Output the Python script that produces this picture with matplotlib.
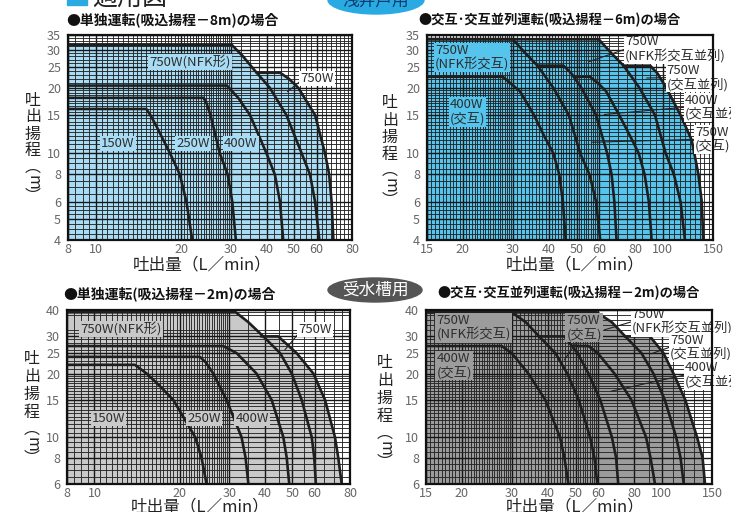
import numpy as np
import matplotlib
matplotlib.use('Agg')
import matplotlib.pyplot as plt
from matplotlib.patches import Ellipse, Rectangle
from matplotlib.ticker import FixedLocator, FixedFormatter, NullFormatter

plt.rcParams['font.family'] = ['Noto Sans CJK JP', 'DejaVu Sans']

# ---------------- data ----------------
# Panel 1: 単独運転 (吸込揚程 -8m)
p1_150w_q = [8, 15.1, 15.6, 16.4, 18.3, 19.8, 20.9, 21.9]
p1_150w_h = [16, 16, 15, 13.3, 10, 8, 6, 4]
p1_250w_q = [8, 24.0, 24.6, 25.4, 27.4, 29.2, 30.3, 31.2]
p1_250w_h = [18, 18, 17, 15, 10, 8, 6, 4]
p1_400w_q = [8, 29.0, 31.8, 35.0, 40.0, 42.8, 44.6, 45.8]
p1_400w_h = [20.5, 20.5, 18, 15, 10, 8, 6, 4]
p1_nfk_q = [8, 30.2, 33.0, 36.4, 41.1, 47.0, 53.2, 56.9, 59.3, 61.4]
p1_nfk_h = [31.5, 31.5, 28, 24, 20, 15, 10, 8, 6, 4]
p1_750w_q = [37.0, 44.6, 48.0, 51.8, 59.3, 64.3, 66.5, 67.8, 68.8]
p1_750w_h = [23.5, 23.5, 22, 20, 15, 10, 8, 6, 4]

# Panel 2: 交互・交互並列運転 (吸込揚程 -6m)
p2_400a_q = [15, 27.6, 31.7, 35.5, 38.8, 41.5, 43.5, 44.8, 45.8]
p2_400a_h = [22.5, 22.5, 19.3, 15, 11.8, 10, 8, 6, 4]
p2_nfka_q = [15, 29.9, 33.0, 36.5, 41.5, 47.0, 51.5, 55.5, 58.5, 60.5]
p2_nfka_h = [33.5, 33.5, 29, 25.3, 20, 15, 10, 8, 6, 4]
p2_750a_q = [36.5, 45.0, 48.0, 52.0, 58.5, 64.0, 66.3, 67.8, 69.0]
p2_750a_h = [25.3, 25.3, 23.3, 20, 15, 10, 8, 6, 4]
p2_400p_q = [49, 55.7, 59.5, 63.4, 70.5, 77.5, 82.5, 86.5, 89.5, 91.5]
p2_400p_h = [22.5, 22.5, 21, 19.3, 15, 11.8, 10, 8, 6, 4]
p2_nfkp_q = [15, 59.7, 66.0, 73.0, 83.0, 94.0, 102.5, 109.5, 115.5, 119.7]
p2_nfkp_h = [33.5, 33.5, 29, 25.3, 20, 15, 10, 8, 6, 4]
p2_750p_q = [73, 90.5, 96, 103, 115.5, 126.4, 133.4, 137, 138.8]
p2_750p_h = [25.3, 25.3, 23.3, 20, 15, 11.5, 8, 6, 4]

# Panel 3: 単独運転 (吸込揚程 -2m)
p3_150w_q = [8, 13.9, 15.3, 17.0, 19.0, 22.7, 23.9, 24.9]
p3_150w_h = [22, 22, 20, 17.5, 15, 10, 8, 6]
p3_250w_q = [8, 23.6, 24.8, 26.3, 29.3, 33.1, 34.2, 35.0]
p3_250w_h = [24, 24, 22.5, 20, 15, 10, 8, 6]
p3_400w_q = [8, 28.5, 31.8, 37.4, 42.3, 46.5, 47.8, 48.8]
p3_400w_h = [27, 27, 25, 20, 15, 10, 8, 6]
p3_nfk_q = [8, 31.6, 35.0, 39.5, 45.3, 49.8, 54.0, 58.6, 59.8, 60.6]
p3_nfk_h = [39, 39, 35, 30, 25, 20, 15, 10, 8, 6]
p3_750w_q = [39.0, 44.6, 51.8, 59.4, 65.3, 70.8, 72.7, 74.8]
p3_750w_h = [30, 30, 25, 20, 15, 10, 8, 6]

# Panel 4: 交互・交互並列運転 (吸込揚程 -2m)
p4_400a_q = [15, 27.6, 29.9, 34.2, 39.2, 44.1, 45.7, 47.2]
p4_400a_h = [27, 27, 25, 20, 15, 10, 8, 6]
p4_nfka_q = [15, 29.9, 33.5, 37.3, 42.5, 46.8, 51.3, 56.2, 58.2, 59.6]
p4_nfka_h = [39, 39, 35, 30, 25, 20, 15, 10, 8, 6]
p4_750a_q = [37.3, 45.7, 50.8, 55.5, 61.0, 67.0, 69.3, 70.5]
p4_750a_h = [30, 30, 25, 20, 15, 10, 8, 6]
p4_400p_q = [48.5, 55.5, 59.8, 68.4, 78.4, 88.2, 91.4, 94.8]
p4_400p_h = [27, 27, 25, 20, 15, 10, 8, 6]
p4_nfkp_q = [15, 59.3, 67.0, 74.6, 85.0, 93.6, 102.6, 112.4, 116.4, 119.5]
p4_nfkp_h = [39, 39, 35, 30, 25, 20, 15, 10, 8, 6]
p4_750p_q = [74.6, 91.0, 101.5, 110.0, 121.0, 133.0, 139.0, 141.8]
p4_750p_h = [30, 30, 25, 20, 15, 10, 8, 6]

# ticks
xt_a = [8, 10, 20, 30, 40, 50, 60, 80]
xt_b = [15, 20, 30, 40, 50, 60, 80, 100, 150]
yt_top = [4, 5, 6, 8, 10, 15, 20, 25, 30, 35]
yt_bot = [6, 8, 10, 15, 20, 25, 30, 40]

titles = ['●単独運転(吸込揚程－8m)の場合',
          '●交互･交互並列運転(吸込揚程－6m)の場合',
          '●単独運転(吸込揚程－2m)の場合',
          '●交互･交互並列運転(吸込揚程－2m)の場合']
xlabel = '吐出量（L／min）'

# ---------------- figure ----------------
W, H = 731, 512
fig = plt.figure(figsize=(W / 100, H / 100), dpi=100)


def px(x, y):
    return x / W, 1 - y / H


def add_ax(l, t, r, b):
    return fig.add_axes([l / W, 1 - b / H, (r - l) / W, (b - t) / H])


def setup(ax, xlim, ylim, xt, yt, xmin, ymin):
    ax.set_xscale('log')
    ax.set_yscale('log')
    ax.set_xlim(*xlim)
    ax.set_ylim(*ylim)
    ax.xaxis.set_major_locator(FixedLocator(xt))
    ax.xaxis.set_major_formatter(FixedFormatter([str(v) for v in xt]))
    ax.xaxis.set_minor_locator(FixedLocator(xmin))
    ax.xaxis.set_minor_formatter(NullFormatter())
    ax.yaxis.set_major_locator(FixedLocator(yt))
    ax.yaxis.set_major_formatter(FixedFormatter([str(v) for v in yt]))
    ax.yaxis.set_minor_locator(FixedLocator(ymin))
    ax.yaxis.set_minor_formatter(NullFormatter())
    ax.set_axisbelow(False)
    ax.grid(which='minor', color='#262626', lw=0.65)
    ax.grid(which='major', color='#161616', lw=1.0)
    ax.tick_params(which='both', length=0)
    ax.tick_params(axis='x', labelsize=9, labelcolor='#666666', pad=2)
    ax.tick_params(axis='y', labelsize=9, labelcolor='#666666', pad=5)
    for s in ax.spines.values():
        s.set_linewidth(1.6)
        s.set_color('#111111')
        s.set_zorder(6)


def curves(ax, data, fill, ybot):
    for q, h in data:
        ax.fill_between(q, h, ybot, color=fill, lw=0, zorder=1)
    for q, h in data:
        ax.plot(q, h, color='#1e1e1e', lw=1.9, zorder=3, solid_joinstyle='round')


def label(ax, text, x, y, bg, ha='center', xy=None, relpos=(0, 0.5)):
    bbox = dict(boxstyle='square,pad=0.08', fc=bg, ec='none')
    kw = dict(ha=ha, va='center', fontsize=9.5, color='#2e2e2e', bbox=bbox,
              zorder=5, linespacing=1.05)
    if xy is None:
        ax.text(x, y, text, **kw)
    else:
        ax.annotate(text, xy=xy, xytext=(x, y), annotation_clip=False,
                    arrowprops=dict(arrowstyle='-', color='#222222', lw=0.8,
                                    shrinkA=0, shrinkB=0, relpos=relpos), **kw)


def ylabel(xc, ys):
    chars = ['吐', '出', '揚', '程', '︵', 'm', '︶']
    for ch, yy in zip(chars, ys):
        rot = -90 if ch == 'm' else 0
        fig.text(*px(xc, yy), ch, ha='center', va='center', rotation=rot,
                 fontsize=11.5, color='#222')


grid_x_a = list(np.arange(8, 30, 0.5)) + list(np.arange(30, 80.01, 2.5))
grid_x_b = list(np.arange(15, 30, 0.5)) + list(np.arange(30, 60, 1)) + list(np.arange(60, 150.01, 5))
grid_x_c = list(np.arange(8, 30, 0.5)) + list(np.arange(30, 80.01, 5))
grid_x_d = list(np.arange(15, 30, 0.5)) + list(np.arange(30, 60, 1)) + list(np.arange(60, 150.01, 10))
grid_y_top = list(np.arange(4, 6, 0.25)) + list(np.arange(6, 20, 0.5)) + list(np.arange(20, 35.01, 1))
grid_y_c = list(np.arange(6, 20, 0.5)) + list(np.arange(20, 32.01, 1)) + [38, 39, 40]
grid_y_d = list(np.arange(6, 20, 0.5)) + list(np.arange(20, 30, 1)) + list(np.arange(30, 40.01, 2))

c1, c2, c3, c4 = '#a8dcf5', '#55c5ee', '#c9c9c9', '#9c9c9c'

# Panel 1
ax1 = add_ax(68, 35, 352, 240)
setup(ax1, (8, 80), (4, 35), xt_a, yt_top, grid_x_a, grid_y_top)
curves(ax1, [(p1_nfk_q, p1_nfk_h), (p1_750w_q, p1_750w_h), (p1_400w_q, p1_400w_h),
             (p1_250w_q, p1_250w_h), (p1_150w_q, p1_150w_h)], c1, 4)
label(ax1, '750W(NFK形)', 21.5, 26.3, c1)
label(ax1, '750W', 60.1, 22.0, 'white', xy=(47.4, 19.2), relpos=(0, 0.3))
label(ax1, '150W', 12.0, 11.1, c1)
label(ax1, '250W', 22.0, 11.1, c1)
label(ax1, '400W', 32.5, 11.1, c1)

# Panel 2
ax2 = add_ax(427, 35, 713, 240)
setup(ax2, (15, 150), (4, 35), xt_b, yt_top, grid_x_b, grid_y_top)
curves(ax2, [(p2_nfkp_q, p2_nfkp_h), (p2_750p_q, p2_750p_h), (p2_400p_q, p2_400p_h),
             (p2_nfka_q, p2_nfka_h), (p2_750a_q, p2_750a_h), (p2_400a_q, p2_400a_h)], c2, 4)
label(ax2, '750W\n(NFK形交互)', 16.0, 27.6, c2, ha='left')
label(ax2, '400W\n(交互)', 18.0, 15.5, c2, ha='left')
label(ax2, '750W\n(NFK形交互並列)', 73.8, 30.1, 'white', ha='left', xy=(55.3, 26.4))
label(ax2, '750W\n(交互並列)', 103.3, 22.3, 'white', ha='left', xy=(87.9, 22.2))
label(ax2, '400W\n(交互並列)', 119.7, 16.3, 'white', ha='left', xy=(62.5, 15.1))
label(ax2, '750W\n(交互)', 129.8, 11.6, 'white', ha='left', xy=(56.5, 11.25))

# Panel 3
ax3 = add_ax(67, 310, 350, 484)
setup(ax3, (8, 80), (6, 40), xt_a, yt_bot, grid_x_c, grid_y_c)
curves(ax3, [(p3_nfk_q, p3_nfk_h), (p3_750w_q, p3_750w_h), (p3_400w_q, p3_400w_h),
             (p3_250w_q, p3_250w_h), (p3_150w_q, p3_150w_h)], c3, 6)
label(ax3, '750W(NFK形)', 12.4, 32.5, c3)
label(ax3, '750W', 60.2, 32.2, 'white', xy=(47.1, 25.9), relpos=(0, 0.2))
label(ax3, '150W', 11.2, 12.3, c3)
label(ax3, '250W', 24.4, 12.3, c3)
label(ax3, '400W', 36.1, 12.3, c3)

# Panel 4
ax4 = add_ax(426, 310, 712, 484)
setup(ax4, (15, 150), (6, 40), xt_b, yt_bot, grid_x_d, grid_y_d)
curves(ax4, [(p4_nfkp_q, p4_nfkp_h), (p4_750p_q, p4_750p_h), (p4_400p_q, p4_400p_h),
             (p4_nfka_q, p4_nfka_h), (p4_750a_q, p4_750a_h), (p4_400a_q, p4_400a_h)], c4, 6)
label(ax4, '750W\n(NFK形交互)', 16.3, 33.0, c4, ha='left')
label(ax4, '400W\n(交互)', 16.3, 21.8, c4, ha='left')
label(ax4, '750W\n(交互)', 46.5, 33.0, c4, ha='left', xy=(45.7, 23.2), relpos=(0.3, 0))
label(ax4, '750W\n(NFK形交互並列)', 78.6, 35.2, 'white', ha='left', xy=(63.0, 32.2))
label(ax4, '750W\n(交互並列)', 107.0, 26.7, 'white', ha='left', xy=(91.8, 24.8))
label(ax4, '400W\n(交互並列)', 120.7, 19.7, 'white', ha='left', xy=(66.5, 16.5))

# titles
fig.text(*px(66, 20), titles[0], ha='left', va='center', fontsize=10, weight='bold', color='#111')
fig.text(*px(418, 20), titles[1], ha='left', va='center', fontsize=9.5, weight='bold', color='#111')
fig.text(*px(63, 294), titles[2], ha='left', va='center', fontsize=10, weight='bold', color='#111')
fig.text(*px(437, 293), titles[3], ha='left', va='center', fontsize=9.5, weight='bold', color='#111')

# x labels
for (xx, yy) in [(202, 265), (575, 265), (200, 507), (575, 507)]:
    fig.text(*px(xx, yy), xlabel, ha='center', va='center', fontsize=12, color='#222')

# y labels (vertical stacked)
ylabel(33, [100, 117, 134, 151, 167, 182, 197])
ylabel(390, [103, 120, 137, 154, 170, 185, 200])
ylabel(32, [358, 376, 394, 412, 429, 444, 459])
ylabel(385, [362, 380, 398, 416, 433, 448, 463])

# header
fig.patches.append(Rectangle(px(67, 5), 20 / W, 20 / H, transform=fig.transFigure,
                             color='#29abe2', zorder=0))
fig.text(*px(92, 5), '適用図', ha='left', va='baseline', fontsize=18, color='#222')

fig.patches.append(Ellipse(px(376, 0), 96 / W, 28 / H, transform=fig.transFigure,
                           color='#2aaae2', zorder=0))
fig.text(*px(376, 1), '浅井戸用', ha='center', va='center', fontsize=12, color='#0d3c6e')

fig.patches.append(Ellipse(px(375, 290), 94 / W, 24 / H, transform=fig.transFigure,
                           color='#555555', zorder=0))
fig.text(*px(375, 290), '受水槽用', ha='center', va='center', fontsize=12, color='white')

fig.savefig('out.png', dpi=100)
